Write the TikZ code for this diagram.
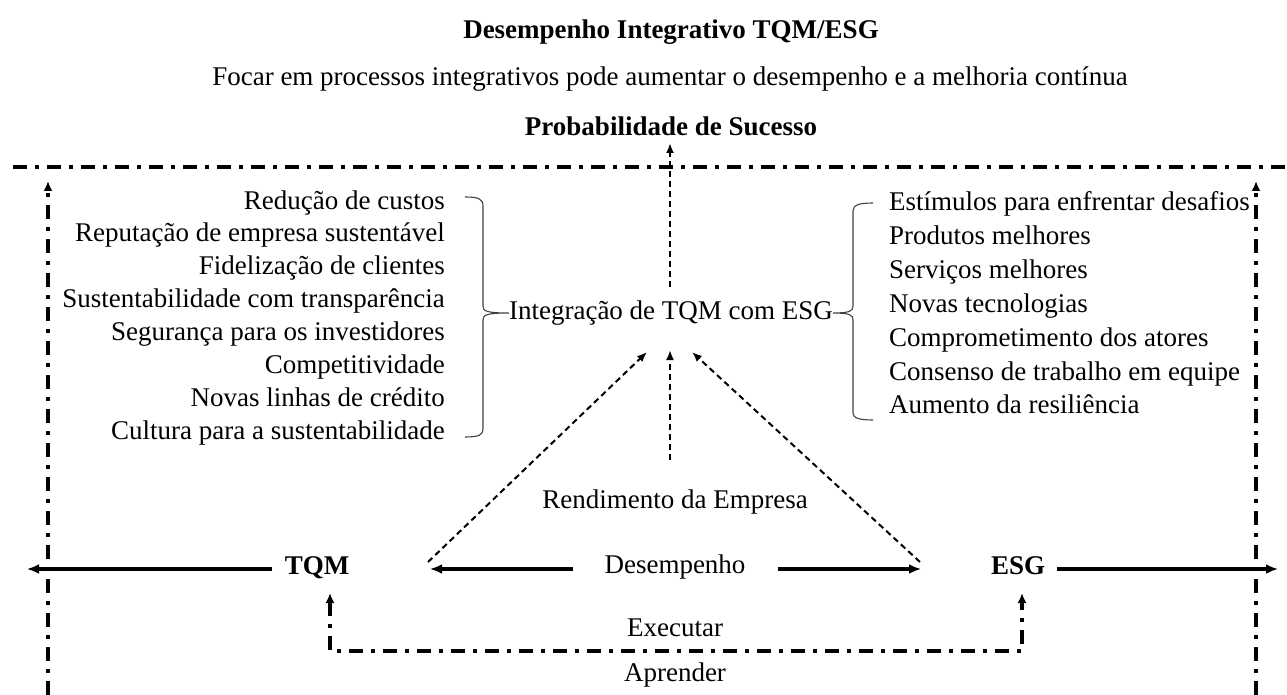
\documentclass[tikz,border=0pt]{standalone}
\usepackage{fontspec}
\setmainfont{Liberation Serif}
\usetikzlibrary{arrows.meta}
\tikzset{
  txt/.style={font=\fontsize{27}{32}\selectfont, inner sep=0pt, text height=18pt, text depth=6pt},
  btxt/.style={txt, font=\fontsize{27}{32}\selectfont\bfseries},
  solidarr/.style={line width=3.2pt, -{Latex[length=12pt,width=10pt]}},
  dasharr/.style={line width=2pt, dash pattern=on 6pt off 4pt, -{Latex[length=10pt,width=8pt]}},
  ddline/.style={line width=3.4pt, dash pattern=on 14pt off 8pt on 4pt off 8pt},
  ddarr/.style={ddline, -{Latex[length=10pt,width=9pt]}},
  bracestyle/.style={line width=1.1pt, black!75},
}
\begin{document}
\begin{tikzpicture}[x=1pt,y=-1pt]
\useasboundingbox (0,0) rectangle (1287,695);

% titles
\node[btxt] (title) at (671,33) {Desempenho Integrativo TQM/ESG};
\node[txt] (sub) at (670,80) {Focar em processos integrativos pode aumentar o desempenho e a melhoria cont\'{\i}nua};
\node[btxt] (prob) at (671,130) {Probabilidade de Sucesso};

% top dash-dot line
\coordinate (hl) at (13,167);
\coordinate (hr) at (1287,167);
\draw[ddline] (hl) -- (hr);

% side vertical arrows
\coordinate (lvb) at (48,695);
\coordinate (lvt) at (48,181);
\coordinate (rvb) at (1256,695);
\coordinate (rvt) at (1256,181);
\draw[ddarr] (lvb) -- (lvt);
\draw[ddarr] (rvb) -- (rvt);

% central node
\node[txt] (int) at (671,313) {Integra\c{c}\~ao de TQM com ESG};

% left list
\foreach \t [count=\i from 0] in {Redu\c{c}\~ao de custos, Reputa\c{c}\~ao de empresa sustent\'avel, Fideliza\c{c}\~ao de clientes, Sustentabilidade com transpar\^encia, Seguran\c{c}a para os investidores, Competitividade, Novas linhas de cr\'edito, Cultura para a sustentabilidade}
  \node[txt, anchor=east] (l\i) at (445,203+32.9*\i) {\t};

% right list
\foreach \t [count=\i from 0] in {Est\'{\i}mulos para enfrentar desafios, Produtos melhores, Servi\c{c}os melhores, Novas tecnologias, Comprometimento dos atores, Consenso de trabalho em equipe, Aumento da resili\^encia}
  \node[txt, anchor=west] (r\i) at (889,205+33.8*\i) {\t};

% braces
\draw[bracestyle] (465,197) .. controls (479,197) and (483,199) .. (483,206) -- (483,306)
  .. controls (483,311) and (486,313) .. (int.west)
  .. controls (486,313) and (483,315) .. (483,320) -- (483,429)
  .. controls (483,435) and (479,437) .. (465,437);
\draw[bracestyle] (873,203) .. controls (859,203) and (853,205) .. (853,211) -- (853,306)
  .. controls (853,311) and (850,313) .. (int.east)
  .. controls (850,313) and (853,315) .. (853,320) -- (853,413)
  .. controls (853,418) and (859,420) .. (873,420);

% bottom nodes
\node[txt] (rend) at (675,502) {Rendimento da Empresa};
\node[txt] (des) at (675,567) {Desempenho};
\node[btxt] (tqm) at (317,568) {TQM};
\node[btxt] (esg) at (1018,568) {ESG};
\node[txt] (exe) at (675,630) {Executar};
\node[txt] (apr) at (675,675) {Aprender};

% dashed arrows to integration and up
\coordinate (upS) at (670,287);
\coordinate (upE) at (670,143);
\draw[dasharr] (upS) -- (upE);
\coordinate (midS) at (670,460);
\coordinate (midE) at (670,350);
\draw[dasharr] (midS) -- (midE);
\coordinate (dlS) at (428,562);
\coordinate (dlE) at (647,352);
\draw[dasharr] (dlS) -- (dlE);
\coordinate (drS) at (920,562);
\coordinate (drE) at (692,352);
\draw[dasharr] (drS) -- (drE);

% solid arrows
\coordinate (dL) at (573,569);
\coordinate (dLt) at (430,569);
\coordinate (dR) at (778,569);
\coordinate (dRt) at (921,569);
\draw[solidarr] (dL) -- (dLt);
\draw[solidarr] (dR) -- (dRt);
\coordinate (tqmS) at (272,569);
\coordinate (tqmT) at (27,569);
\coordinate (esgS) at (1057,569);
\coordinate (esgT) at (1278,569);
\draw[solidarr] (tqmS) -- (tqmT);
\draw[solidarr] (esgS) -- (esgT);

% loop
\coordinate (lpL) at (330,593);
\coordinate (lpM) at (676,651);
\coordinate (lpR) at (1022,593);
\draw[ddline, {Latex[length=10pt,width=9pt]}-{Latex[length=10pt,width=9pt]}] (lpL) |- (lpM) -| (lpR);
\end{tikzpicture}
\end{document}
